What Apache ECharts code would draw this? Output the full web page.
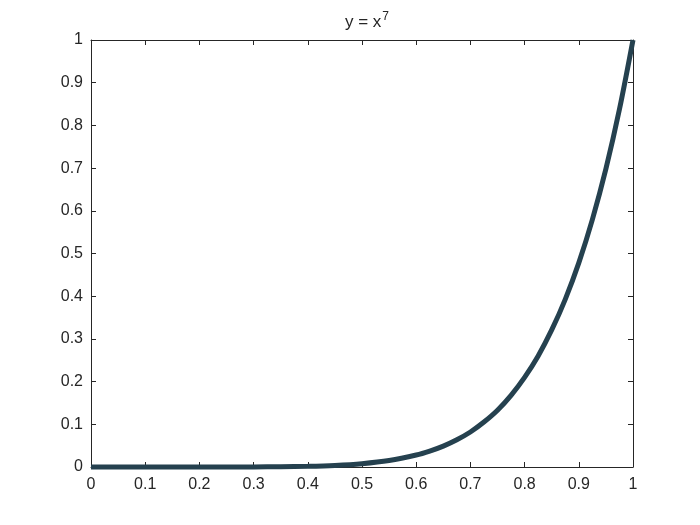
<!DOCTYPE html>
<html><head><meta charset="utf-8">
<script src="https://cdn.jsdelivr.net/npm/echarts@6/dist/echarts.min.js"></script>
<style>html,body{margin:0;padding:0;background:#fff}#c{width:700px;height:525px}</style>
</head><body><div id="c"></div>
<script>
var xValues = [0, 0.05, 0.1, 0.15, 0.2, 0.25, 0.3, 0.35, 0.4, 0.45, 0.5, 0.55, 0.6, 0.625, 0.65, 0.675, 0.7, 0.725, 0.75, 0.775, 0.8, 0.825, 0.85, 0.875, 0.9, 0.925, 0.95, 0.975, 1];
var yValues = [0, 0, 0, 0, 0.00001, 0.00006, 0.0002, 0.0006, 0.0016, 0.0037, 0.0078, 0.0152, 0.028, 0.0373, 0.049, 0.0638, 0.082, 0.1053, 0.133, 0.1679, 0.210, 0.2601, 0.321, 0.3927, 0.478, 0.5794, 0.698, 0.8376, 1];
var xTicks = [0, 0.1, 0.2, 0.3, 0.4, 0.5, 0.6, 0.7, 0.8, 0.9, 1];
var yTicks = [0, 0.1, 0.2, 0.3, 0.4, 0.5, 0.6, 0.7, 0.8, 0.9, 1];

var pts = xValues.map(function (x, i) { return [x, yValues[i]]; });
var axisColor = '#262626';
var font = 'Liberation Sans, Arial, Helvetica, sans-serif';
function fmt(v) { return String(Math.round(v * 10) / 10); }
function mkAxis(pos, show, margin) {
  return {
    type: 'value', position: pos, min: 0, max: 1, interval: 0.1,
    axisLine: { show: true, onZero: false, lineStyle: { color: axisColor, width: 1 } },
    axisTick: { show: true, inside: true, length: 5, lineStyle: { color: axisColor } },
    axisLabel: { show: show, color: axisColor, fontSize: 16, fontFamily: font, margin: margin, formatter: fmt },
    splitLine: { show: false }
  };
}
var chart = echarts.init(document.getElementById('c'));
chart.setOption({
  animation: false,
  backgroundColor: '#fff',
  title: {
    text: 'y = x{sup|7}',
    left: 362, top: 6, textAlign: 'center',
    textStyle: {
      fontSize: 17, fontWeight: 'normal', color: axisColor, fontFamily: font,
      rich: { sup: { fontSize: 12, verticalAlign: 'top', padding: [0, 0, 11, 1], color: axisColor, fontFamily: font } }
    }
  },
  grid: { left: 91, right: 67, top: 40, bottom: 58 },
  xAxis: [mkAxis('bottom', true, 10), mkAxis('top', false, 8)],
  yAxis: [mkAxis('left', true, 8), mkAxis('right', false, 8)],
  series: [{
    type: 'line', data: pts, smooth: 0.3, showSymbol: false,
    lineStyle: { color: '#25414f', width: 5 }, clip: false
  }]
});
</script></body></html>
